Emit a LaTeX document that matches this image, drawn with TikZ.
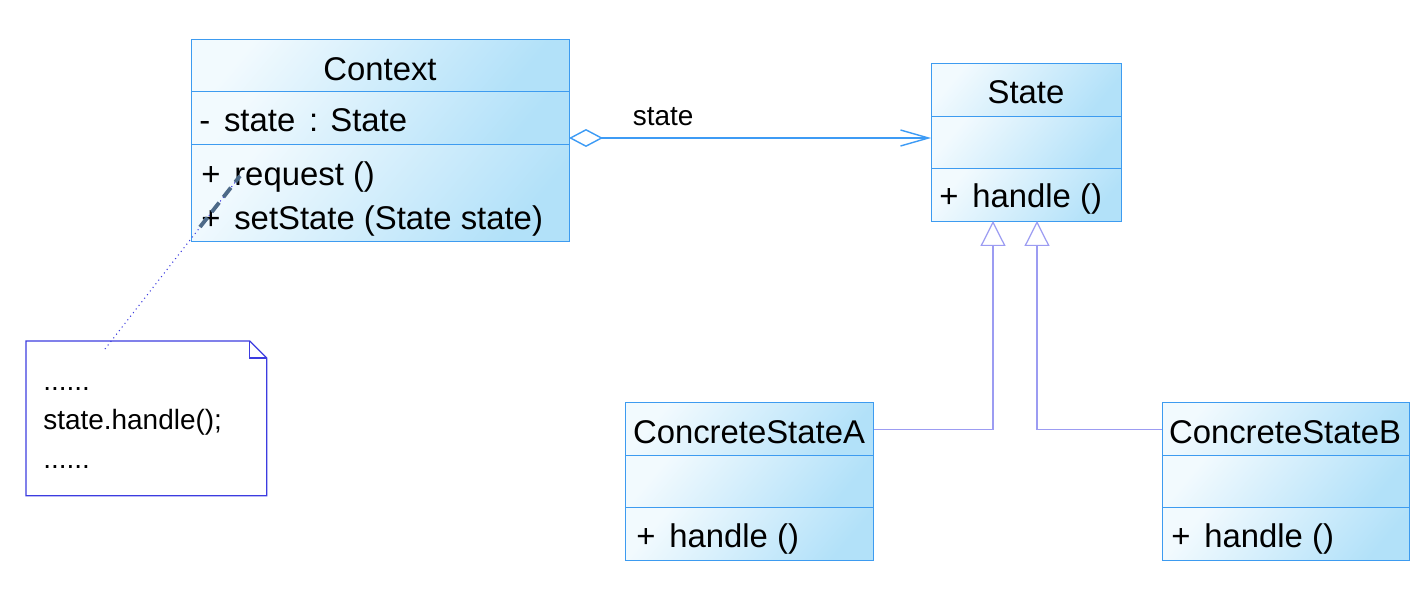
\documentclass[tikz,border=0pt]{standalone}
\usepackage{fontspec}
\setmainfont{Liberation Sans}
\usetikzlibrary{positioning,arrows.meta}

\definecolor{boxblue}{HTML}{3D9BF0}
\definecolor{lineblue}{HTML}{3D9BF5}
\definecolor{genblue}{HTML}{9C9CF2}
\definecolor{noteblue}{HTML}{3C3CE0}
\definecolor{fillhi}{HTML}{F2FAFE}
\definecolor{filllo}{HTML}{B2E1F9}
\definecolor{anchorgray}{HTML}{4D6A88}

\newcommand\clsfont{\fontsize{18.7pt}{22pt}\selectfont}
\newcommand\notefont{\fontsize{15.9pt}{22.1pt}\selectfont}
\newcommand\gap{\hspace{0.42em}}

\begin{document}
\begin{tikzpicture}[x=0.02cm, y=-0.02cm,
   compart/.style={draw=boxblue, line width=0.8pt, inner sep=0pt, anchor=north west,
      minimum height=#1, top color=fillhi, bottom color=filllo, shading angle=50},
   clsname/.style={font=\clsfont, inner sep=0pt, anchor=base},
   member/.style={font=\clsfont, inner sep=0pt, anchor=base west},
   assoc/.style={draw=lineblue, line width=0.8pt,
      {Diamond[open, fill=white, length=0.68cm, width=0.36cm]}-{Straight Barb[length=0.56cm, width=0.32cm]}},
   gen/.style={draw=genblue, line width=0.7pt, -{Triangle[open, fill=white, length=0.5cm, width=0.5cm]}},
   noteline/.style={draw=noteblue, line width=0.7pt},
   notelink/.style={draw=noteblue, line width=0.6pt, dotted},
   anchorbar/.style={draw=anchorgray, line width=2.2pt, dash pattern=on 0.24cm off 0.14cm}]

   \path[fill=white] (0,0) rectangle (1428,595);

   % Context
   \node[compart=1.04cm, minimum width=7.56cm] (ctx-name) at (191,39) {};
   \node[compart=1.06cm, minimum width=7.56cm] (ctx-attr) at (191,91) {};
   \node[compart=1.94cm, minimum width=7.56cm] (ctx-ops) at (191,144) {};
   \node[clsname] (ctx-title) at (380,80) {Context};
   \node[member] (ctx-state) at (199,131) {-\gap state\gap : State};
   \node[member] (ctx-request) at (201,185) {+\gap request ()};
   \node[member] (ctx-setstate) at (201,229) {+\gap setState (State state)};

   % State
   \node[compart=1.06cm, minimum width=3.8cm] (state-name) at (931,63) {};
   \node[compart=1.04cm, minimum width=3.8cm] (state-attr) at (931,116) {};
   \node[compart=1.06cm, minimum width=3.8cm] (state-ops) at (931,168) {};
   \node[clsname] (state-title) at (1026,103) {State};
   \node[member] (state-handle) at (939,207) {+\gap handle ()};

   % ConcreteStateA
   \node[compart=1.06cm, minimum width=4.96cm] (csa-name) at (625,402) {};
   \node[compart=1.04cm, minimum width=4.96cm] (csa-attr) at (625,455) {};
   \node[compart=1.06cm, minimum width=4.96cm] (csa-ops) at (625,507) {};
   \node[clsname] (csa-title) at (749,443) {ConcreteStateA};
   \node[member] (csa-handle) at (636,547) {+\gap handle ()};

   % ConcreteStateB
   \node[compart=1.06cm, minimum width=4.94cm] (csb-name) at (1162,402) {};
   \node[compart=1.04cm, minimum width=4.94cm] (csb-attr) at (1162,455) {};
   \node[compart=1.06cm, minimum width=4.94cm] (csb-ops) at (1162,507) {};
   \node[clsname] (csb-title) at (1285,443) {ConcreteStateB};
   \node[member] (csb-handle) at (1171,547) {+\gap handle ()};

   % note
   \node[minimum width=4.8cm, minimum height=3.08cm, anchor=north west, inner sep=0pt] (note) at (26,341) {};
   \draw[noteline] (note.north west) -- ([xshift=-0.34cm]note.north east) -- ([yshift=-0.34cm]note.north east)
      -- (note.south east) -- (note.south west) -- cycle;
   \draw[noteline] ([xshift=-0.34cm]note.north east) |- ([yshift=-0.34cm]note.north east);
   \node[font=\notefont, align=left, anchor=base west, inner sep=0pt] (note-text) at (43,468)
      {......\\state.handle();\\......};

   \coordinate (agg) at (569,138);
   \coordinate (gen-a) at (993,221);
   \coordinate (gen-b) at (1037,221);
   \coordinate (note-tip) at (105,349);
   \coordinate (ctx-enter) at (200,227);
   \coordinate (ctx-tip) at (240,176);

   \path[assoc] (agg) -- (agg -| state-attr.west)
      node[pos=0.26, above=0.24cm, font=\notefont, inner sep=0pt] (assoc-label) {state};
   \path[gen] (csa-name.east) -| (gen-a);
   \path[gen] (csb-name.west) -| (gen-b);
   \path[notelink] (note-tip) -- (ctx-tip);
   \path[anchorbar] (ctx-enter) -- (ctx-tip);
\end{tikzpicture}
\end{document}
